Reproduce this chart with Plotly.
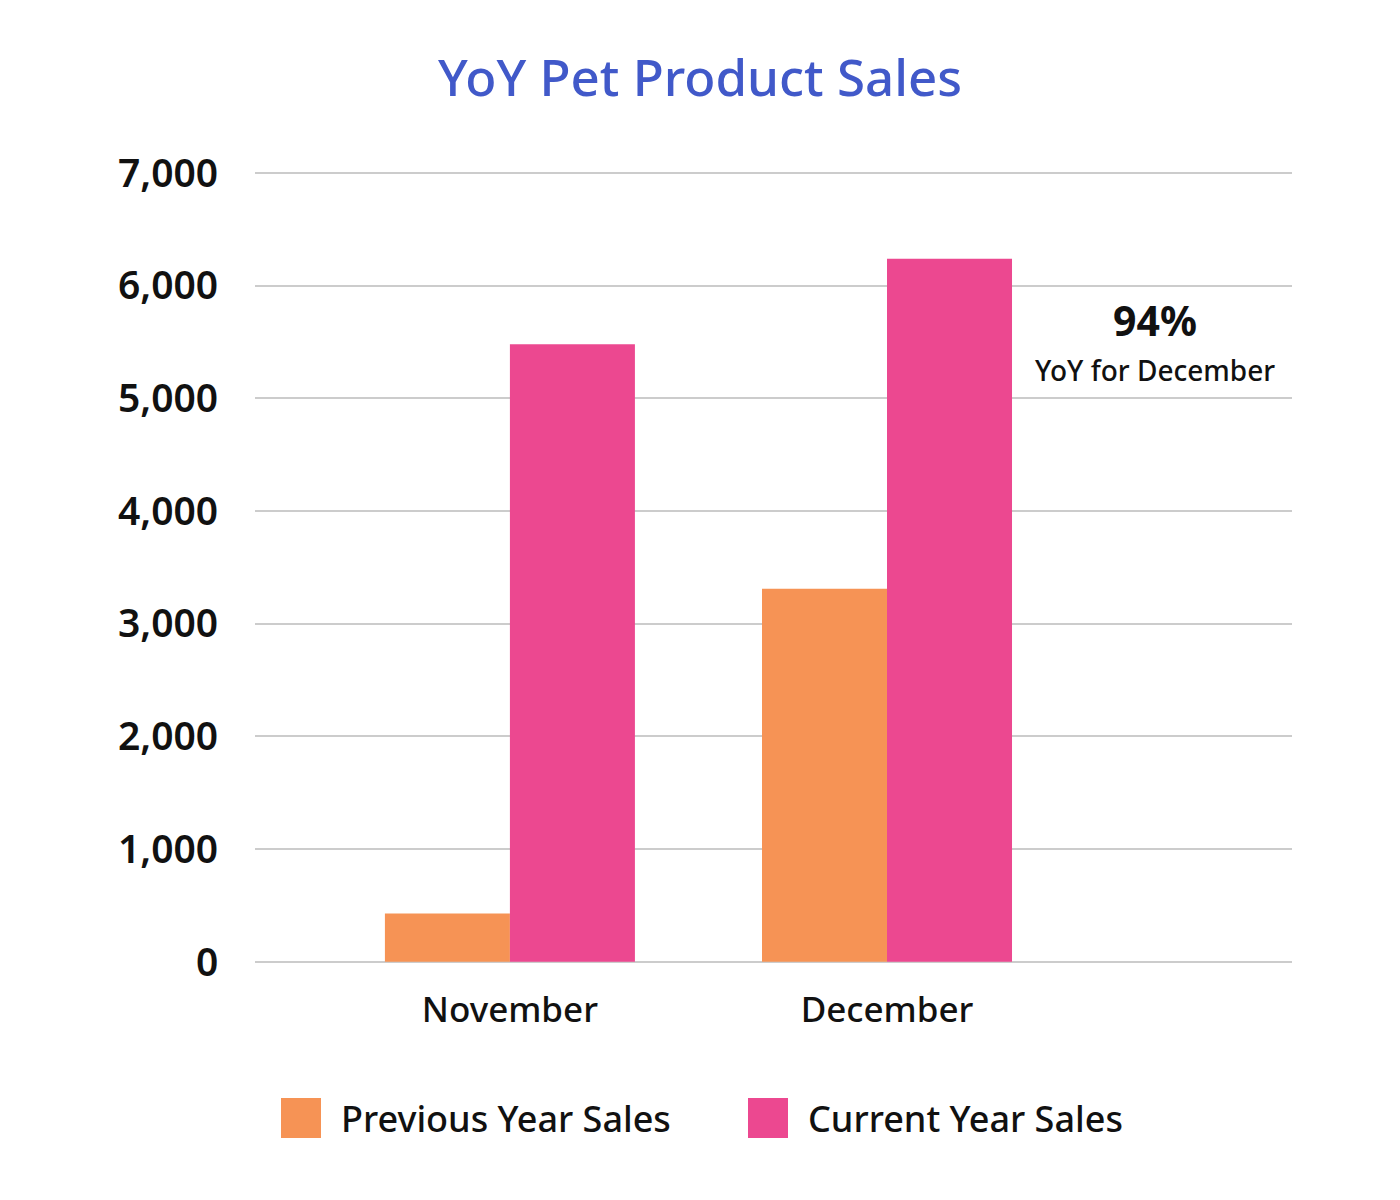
import plotly.graph_objects as go

categories = ["November", "December"]
previous_year = [430, 3310]
current_year = [5480, 6240]
series_names = ["Previous Year Sales", "Current Year Sales"]
series_colors = ["#F69355", "#EC4890"]
y_ticks = [0, 1000, 2000, 3000, 4000, 5000, 6000, 7000]
y_ticklabels = ["0", "1,000", "2,000", "3,000", "4,000", "5,000", "6,000", "7,000"]
title_text = "YoY Pet Product Sales"
callout_value = "94%"
callout_text = "YoY for December"

FONT = "Noto Sans"

# plot area in page pixels (page has an 8px body margin)
PX0, PX1, PY0, PY1 = 255, 1292, 172, 963


def px(x):
    return (x - PX0) / (PX1 - PX0)


def py(y):
    return (PY1 - y) / (PY1 - PY0)


fig = go.Figure()
for name, vals, col in zip(series_names, [previous_year, current_year], series_colors):
    fig.add_trace(go.Bar(x=categories, y=vals, name=name, marker=dict(color=col, line=dict(width=0)),
                         showlegend=False, hoverinfo="x+y+name"))

fig.update_layout(
    width=1400, height=1200,
    paper_bgcolor="white", plot_bgcolor="white",
    margin=dict(l=PX0 - 8, r=1400 - (PX1 - 8), t=PY0 - 8, b=1200 - (PY1 - 8), autoexpand=False),
    barmode="group", bargap=0.337, bargroupgap=0,
    title=dict(text=title_text, x=(700 - 8) / 1400, xanchor="center", xref="container",
               y=1 - (78 - 8) / 1200, yref="container", yanchor="middle",
               font=dict(family=FONT, size=51, color="#4159C9", weight=500)),
    font=dict(family=FONT, color="#111111"),
)
fig.update_xaxes(range=[-0.676, 2.074], showgrid=False, showline=False, zeroline=False,
                 ticks="outside", tickcolor="rgba(0,0,0,0)", ticklen=16,
                 tickfont=dict(family=FONT, size=35, color="#111111", weight=500))
fig.update_yaxes(range=[-10, 7009], tickvals=y_ticks, ticktext=y_ticklabels,
                 showgrid=True, gridcolor="#CCCCCC", gridwidth=2,
                 zeroline=True, zerolinecolor="#CCCCCC", zerolinewidth=2, showline=False,
                 ticks="outside", tickcolor="rgba(0,0,0,0)", ticklen=28,
                 tickfont=dict(family=FONT, size=39, color="#111111", weight=600))

# callout
fig.add_annotation(x=px(1155), y=py(320), xref="paper", yref="paper",
                   text=callout_value, showarrow=False, xanchor="center", yanchor="middle",
                   font=dict(family=FONT, size=41, color="#111111", weight=700))
fig.add_annotation(x=px(1155), y=py(370), xref="paper", yref="paper",
                   text=callout_text, showarrow=False, xanchor="center", yanchor="middle",
                   font=dict(family=FONT, size=28, color="#111111", weight=500))

# custom legend (large square swatches)
legend_sq = [(281, 321), (748, 788)]
legend_txt_x = [339, 806]
for (x0, x1), tx, name, col in zip(legend_sq, legend_txt_x, series_names, series_colors):
    fig.add_shape(type="rect", xref="paper", yref="paper",
                  x0=px(x0), x1=px(x1), y0=py(1098), y1=py(1138),
                  fillcolor=col, line=dict(width=0))
    fig.add_annotation(x=px(tx), y=py(1118), xref="paper", yref="paper",
                       text=name, showarrow=False, xanchor="left", yanchor="middle",
                       font=dict(family=FONT, size=36, color="#111111", weight=500))

fig.write_html("out.html")
